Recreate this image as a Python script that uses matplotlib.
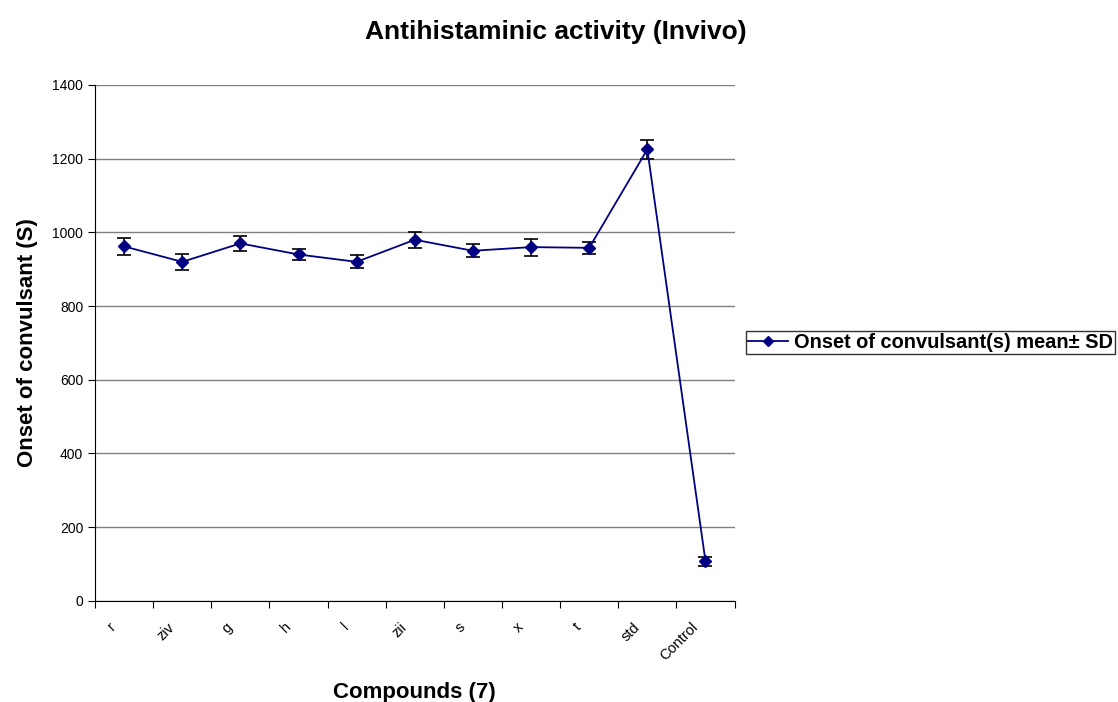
import numpy as np
import matplotlib.pyplot as plt
from matplotlib.lines import Line2D
from matplotlib.transforms import ScaledTranslation

plt.rcParams['font.family'] = ['Liberation Sans', 'DejaVu Sans']

compounds = ["r", "ziv", "g", "h", "l", "zii", "s", "x", "t", "std", "Control"]
onset = [962, 920, 970, 940, 920, 980, 950, 960, 958, 1225, 108]
sd = [23, 22, 21, 16, 18, 22, 18, 23, 17, 25, 12]

fig = plt.figure(figsize=(11.18, 7.02), dpi=100)
ax = fig.add_axes([0.085, 0.144, 0.572, 0.735])

x = np.arange(len(compounds))
ax.errorbar(x, onset, yerr=sd, color="#000080", marker="D", markersize=6,
            linewidth=1.3, ecolor="black", elinewidth=1.2, capsize=5, capthick=1.2,
            zorder=3)

ax.set_xlim(-0.5, len(compounds) - 0.5)
ax.set_ylim(0, 1400)
ax.set_yticks(np.arange(0, 1401, 200))
ax.yaxis.grid(True, color="#808080", linewidth=1)
ax.set_axisbelow(True)

# ticks between categories, rotated names under each category
ax.set_xticks(np.arange(-0.5, len(compounds), 1))
ax.set_xticklabels([])
ax.tick_params(axis="x", which="major", length=5, direction="out")
ax.tick_params(axis="y", length=5, labelsize=10)
shift = ScaledTranslation(-15 / 100, -19 / 100, fig.dpi_scale_trans)
for xi, name in zip(x, compounds):
    ax.text(xi, 0, name, transform=ax.get_xaxis_transform() + shift, rotation=45,
            ha="right", va="top", rotation_mode="anchor", fontsize=10.5, clip_on=False)

for s in ["top", "right"]:
    ax.spines[s].set_visible(False)

ax.set_ylabel("Onset of convulsant (S)", fontsize=16, fontweight="bold", labelpad=10)
ax.set_xlabel("Compounds (7)", fontsize=16, fontweight="bold", labelpad=50)
fig.text(0.497, 0.954, "Antihistaminic activity (Invivo)", fontsize=19, fontweight="bold",
         ha="center", va="center")

handle = Line2D([], [], color="#000080", marker="D", markersize=5, linewidth=1.3)
leg = ax.legend([handle], ["Onset of convulsant(s) mean\u00b1 SD"], loc="center left",
                bbox_to_anchor=(1.018, 0.5), frameon=True, fancybox=False,
                edgecolor="black", prop={"weight": "bold", "size": 14.4}, handlelength=2.0,
                borderpad=0.1, borderaxespad=0, handletextpad=0.3)
leg.get_frame().set_linewidth(1)

fig.savefig("out.png", dpi=100)
